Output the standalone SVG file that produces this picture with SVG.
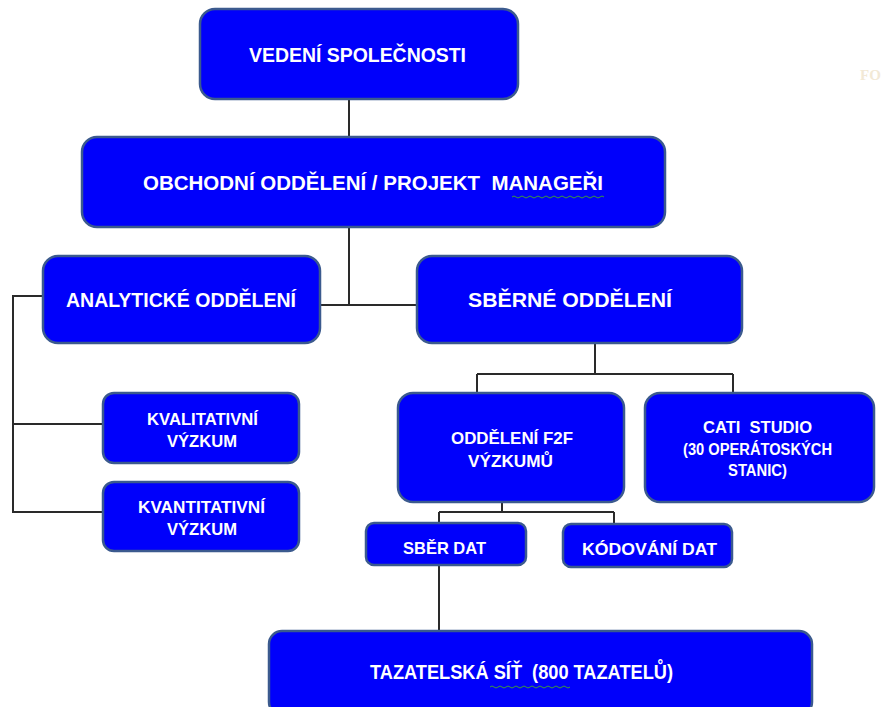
<svg xmlns="http://www.w3.org/2000/svg" width="884" height="707" viewBox="0 0 884 707">
  <style>
    .box { fill: #0000fb; stroke: #3b5a8e; stroke-width: 2.5; }
    .lbl { font-family: "Liberation Sans", Arial, sans-serif; font-weight: bold; fill: #ffffff; text-anchor: middle; }
    .big { font-size: 20px; }
    .mid { font-size: 17px; }
    .sml { font-size: 16px; }
    .wire { fill: none; stroke: #2a2a2a; stroke-width: 2; }
    .squiggle { fill: none; stroke: #3c9a3c; stroke-width: 1; }
  </style>

  <rect width="884" height="707" fill="#ffffff"/>

  <!-- faint stray label in the corner -->
  <text x="860" y="80" font-family="Liberation Serif, serif" font-weight="bold" font-size="15" fill="#f2e9d6">FO</text>

  <!-- connectors -->
  <g id="connectors" class="wire">
    <path d="M349 99 V137"/>
    <path d="M349 227 V305 M320 305 H417"/>
    <path d="M43 296 H13 V512 H103 M13 424 H103"/>
    <path d="M595 343 V374 M477 374 H733 M477 374 V393 M733 374 V393"/>
    <path d="M502 502 V512 M439 512 H614 M439 512 V523 M614 512 V523"/>
    <path d="M439 565 V631"/>
  </g>

  <g id="vedeni">
    <rect class="box" x="200" y="9" width="318" height="90" rx="15"/>
    <text class="lbl big" x="357.5" y="62" textLength="217" lengthAdjust="spacingAndGlyphs">VEDENÍ SPOLEČNOSTI</text>
  </g>

  <g id="obchodni">
    <rect class="box" x="82" y="137" width="583" height="90" rx="15"/>
    <text class="lbl big" x="373" y="190" textLength="460" lengthAdjust="spacingAndGlyphs" xml:space="preserve">OBCHODNÍ ODDĚLENÍ / PROJEKT  MANAGEŘI</text>
    <path class="squiggle" d="M512 197 q2 -2 4 0 t4 0 t4 0 t4 0 t4 0 t4 0 t4 0 t4 0 t4 0 t4 0 t4 0 t4 0 t4 0 t4 0 t4 0 t4 0 t4 0 t4 0 t4 0 t4 0 t4 0 t4 0 t4 0"/>
  </g>

  <g id="analyticke">
    <rect class="box" x="43" y="256" width="277" height="87" rx="15"/>
    <text class="lbl big" x="181" y="307" textLength="230" lengthAdjust="spacingAndGlyphs">ANALYTICKÉ ODDĚLENÍ</text>
  </g>

  <g id="sberne">
    <rect class="box" x="417" y="256" width="325" height="87" rx="15"/>
    <text class="lbl big" x="570" y="307" textLength="204" lengthAdjust="spacingAndGlyphs">SBĚRNÉ ODDĚLENÍ</text>
  </g>

  <g id="kvalitativni">
    <rect class="box" x="103" y="393" width="196" height="70" rx="11"/>
    <text class="lbl mid" x="202.5" y="425" textLength="111" lengthAdjust="spacingAndGlyphs">KVALITATIVNÍ</text>
    <text class="lbl mid" x="202" y="447" textLength="70" lengthAdjust="spacingAndGlyphs">VÝZKUM</text>
  </g>

  <g id="kvantitativni">
    <rect class="box" x="103" y="482" width="196" height="69" rx="11"/>
    <text class="lbl mid" x="201.5" y="513" textLength="127" lengthAdjust="spacingAndGlyphs">KVANTITATIVNÍ</text>
    <text class="lbl mid" x="202" y="535" textLength="70" lengthAdjust="spacingAndGlyphs">VÝZKUM</text>
  </g>

  <g id="f2f">
    <rect class="box" x="398" y="393" width="226" height="109" rx="15"/>
    <text class="lbl mid" x="512" y="444" textLength="122" lengthAdjust="spacingAndGlyphs">ODDĚLENÍ F2F</text>
    <text class="lbl mid" x="510.5" y="467" textLength="85" lengthAdjust="spacingAndGlyphs">VÝZKUMŮ</text>
  </g>

  <g id="cati">
    <rect class="box" x="645" y="393" width="229" height="109" rx="15"/>
    <text class="lbl sml" x="757.5" y="433" textLength="109" lengthAdjust="spacingAndGlyphs" xml:space="preserve">CATI  STUDIO</text>
    <text class="lbl sml" x="757.5" y="455" textLength="149" lengthAdjust="spacingAndGlyphs">(30 OPERÁTOSKÝCH</text>
    <text class="lbl sml" x="757.5" y="476" textLength="59" lengthAdjust="spacingAndGlyphs">STANIC)</text>
  </g>

  <g id="sber-dat">
    <rect class="box" x="366" y="523" width="160" height="42" rx="8"/>
    <text class="lbl mid" x="444.5" y="554" textLength="83" lengthAdjust="spacingAndGlyphs">SBĚR DAT</text>
  </g>

  <g id="kodovani-dat">
    <rect class="box" x="563" y="524" width="169" height="43" rx="8"/>
    <text class="lbl mid" x="649.5" y="555" textLength="135" lengthAdjust="spacingAndGlyphs">KÓDOVÁNÍ DAT</text>
  </g>

  <g id="tazatelska-sit">
    <rect class="box" x="269" y="631" width="543" height="84" rx="13"/>
    <text class="lbl big" x="521.5" y="679" textLength="303" lengthAdjust="spacingAndGlyphs" xml:space="preserve">TAZATELSKÁ SÍŤ  (800 TAZATELŮ)</text>
    <path class="squiggle" d="M490 687 q2 -2 4 0 t4 0 t4 0 t4 0 t4 0 t4 0 t4 0 t4 0 t4 0 t4 0 t4 0 t4 0 t4 0 t4 0 t4 0 t4 0 t4 0 t4 0 t4 0 t4 0"/>
  </g>
</svg>
